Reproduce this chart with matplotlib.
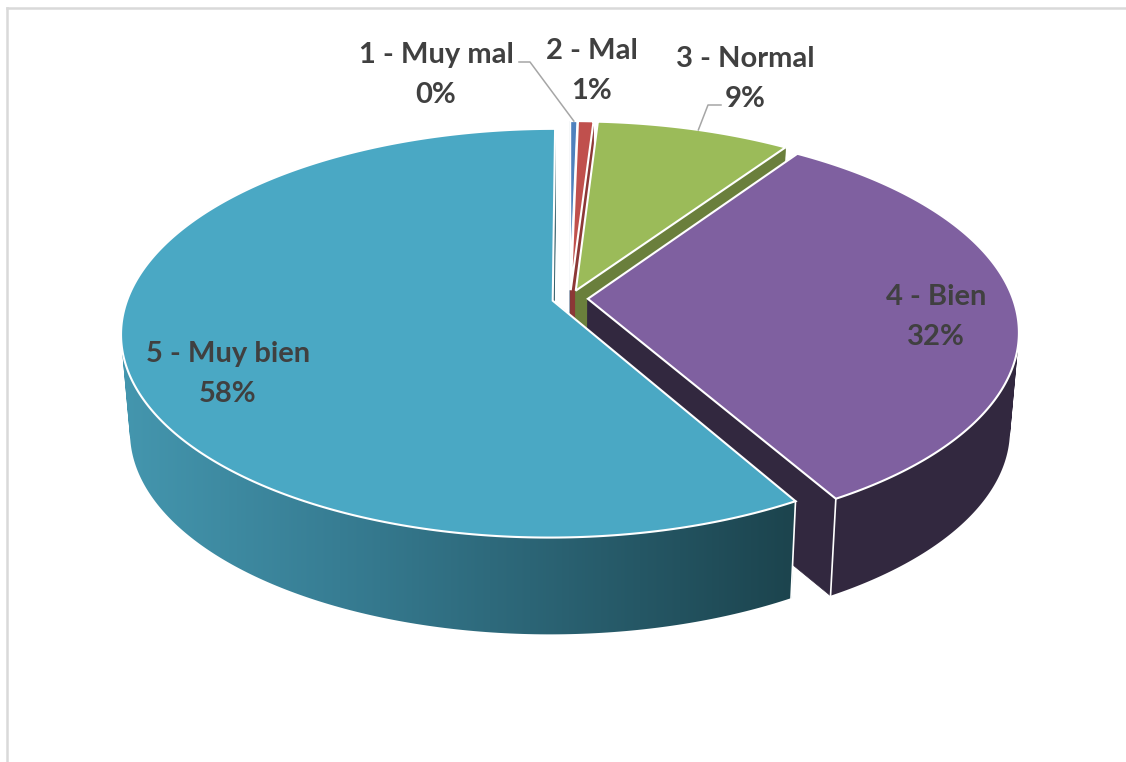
import numpy as np
import matplotlib
matplotlib.use("Agg")
import matplotlib.pyplot as plt
from matplotlib.patches import Polygon, PathPatch
from matplotlib.path import Path

categories = ["1 - Muy mal", "2 - Mal", "3 - Normal", "4 - Bien", "5 - Muy bien"]
values = [0.32, 0.68, 8.52, 32.2, 58.28]
top_colors = ["#4F81BD", "#C0504D", "#9BBB59", "#7F60A0", "#4AA8C4"]
side_colors = ["#2F4D71", "#8C3836", "#6A7F3C", "#32283F", None]
text_color = "#404040"

# geometry of the tilted pie, in pixels
CX, CY = 570, 298.5
R, H, K = 425, 198.5, 0.159
EXPLODE = 0.042
DEPTH, SHRINK_X, SHRINK_Y = 98, 0.98, 0.995

label_pos = [(436, 75), (592, 71), (745, 79), (936, 317), (228, 374)]


def project(u, v):
    s = 1 / (1 - K * v)
    return CX + R * u * s, CY + H * v * s


def drop(x, y):
    return CX + (x - CX) * SHRINK_X, CY + (y - CY) * SHRINK_Y + DEPTH


def slice_points(start, end, n=120):
    # angles clockwise from 12 o'clock
    mid = (start + end) / 2
    ou, ov = EXPLODE * np.sin(mid), -EXPLODE * np.cos(mid)
    t = np.linspace(start, end, n)
    rx, ry = project(ou + np.sin(t), ov - np.cos(t))
    ax0, ay0 = project(ou, ov)
    return (ax0, ay0), np.column_stack([rx, ry])


def wall_path(rim, rim_low):
    # all quads turned the same way so the fill is their union
    verts, codes = [], []
    for j in range(len(rim) - 1):
        quad = np.array([rim[j], rim[j + 1], rim_low[j + 1], rim_low[j]])
        x, y = quad[:, 0], quad[:, 1]
        area = np.sum(x * np.roll(y, -1) - np.roll(x, -1) * y)
        if area < 0:
            quad = quad[::-1]
        verts.extend(quad)
        verts.append(quad[0])
        codes.extend([Path.MOVETO, Path.LINETO, Path.LINETO, Path.LINETO, Path.CLOSEPOLY])
    return Path(np.array(verts), codes)


def blue_side(x):
    r = np.interp(x, [125, 340, 790], [68, 55, 28])
    g = np.interp(x, [125, 340, 790], [150, 125, 68])
    b = np.interp(x, [125, 340, 790], [174, 147, 78])
    return np.stack([r, g, b], axis=-1) / 255


fig = plt.figure(figsize=(11.26, 7.62), dpi=100)
ax = fig.add_axes([0, 0, 1, 1])

# chart frame, only top and left are visible
ax.plot([7, 1126], [8, 8], color="#D9D9D9", lw=1.8, zorder=1)
ax.plot([7, 7], [8, 762], color="#D9D9D9", lw=1.8, zorder=1)

fractions = np.array(values) / sum(values)
edges = np.concatenate([[0], np.cumsum(fractions)]) * 2 * np.pi

z = 2
rims = []
for i, cat in enumerate(categories):
    apex, rim = slice_points(edges[i], edges[i + 1], n=300)
    rims.append(rim)
    apex_low = drop(*apex)
    rim_low = np.array([drop(x, y) for x, y in rim])
    side = side_colors[i] or tuple(blue_side(700.0))

    # cut faces
    for end, end_low in ((rim[0], rim_low[0]), (rim[-1], rim_low[-1])):
        face = [apex, end, end_low, apex_low]
        ax.add_patch(Polygon(face, closed=True, facecolor=side, edgecolor=side, lw=0.5, zorder=z))
    z += 1

    # outer wall
    wall = wall_path(rim, rim_low)
    if side_colors[i]:
        ax.add_patch(PathPatch(wall, facecolor=side, edgecolor="none", zorder=z))
    else:
        clip = PathPatch(wall, facecolor="none", edgecolor="none")
        ax.add_patch(clip)
        xs = np.arange(100, 820)
        img = ax.imshow(blue_side(xs.astype(float))[np.newaxis, :, :], extent=(100, 820, 700, 300),
                        aspect="auto", zorder=z, interpolation="bilinear")
        img.set_clip_path(clip)
    z += 1

    # seam between cut face and wall
    if i == 3:
        ax.plot([rim[-1][0], rim_low[-1][0]], [rim[-1][1], rim_low[-1][1]], color="white", lw=1.2, zorder=z)
    if i == 4:
        ax.plot([rim[0][0], rim_low[0][0]], [rim[0][1], rim_low[0][1]], color="white", lw=1.2, zorder=z)

    # top surface
    top = np.vstack([[apex], rim])
    ax.add_patch(Polygon(top, closed=True, facecolor=top_colors[i], edgecolor="white", lw=1.5, zorder=z))
    z += 1

# leader lines
rim_a = rims[0][len(rims[0]) // 2]
rim_c = rims[2][int(len(rims[2]) * 0.52)]
ax.plot([519, 530, rim_a[0]], [62, 62, rim_a[1]], color="#A6A6A6", lw=1.1, zorder=z)
ax.plot([721, 708, rim_c[0]], [105, 105, rim_c[1]], color="#A6A6A6", lw=1.1, zorder=z)

for cat, val, (x, y) in zip(categories, values, label_pos):
    ax.text(x, y, f"{cat}\n{val:.0f}%", ha="center", va="center", color=text_color,
            fontsize=21, fontweight="bold", family=["Lato", "DejaVu Sans"], linespacing=1.62, zorder=z + 1)

ax.set_xlim(0, 1126)
ax.set_ylim(762, 0)
ax.axis("off")

fig.savefig("out.png", dpi=100, facecolor="white")
